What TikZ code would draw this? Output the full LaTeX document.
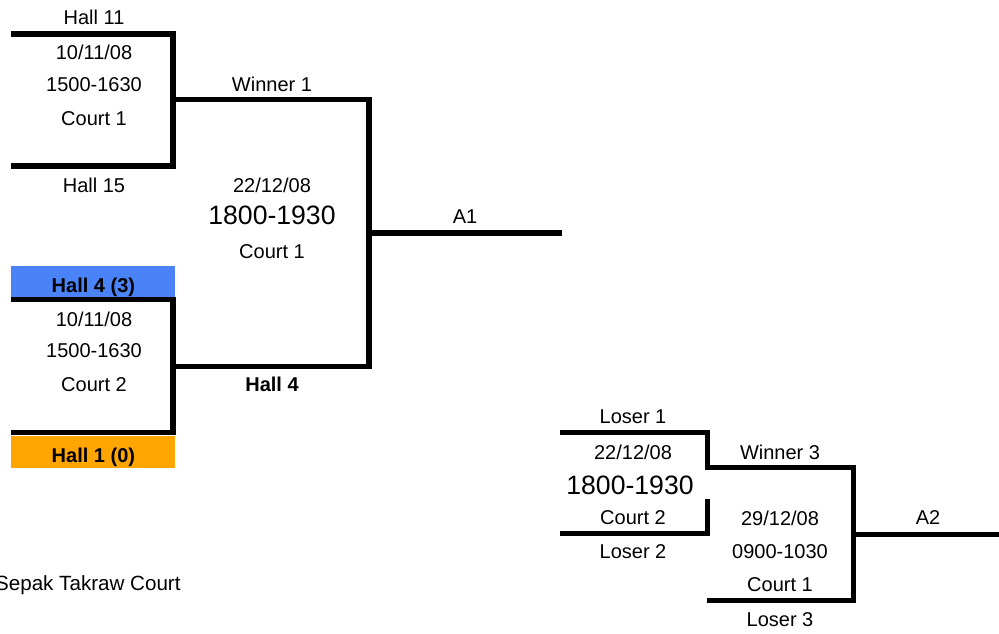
\documentclass[tikz,border=0pt]{standalone}
\usepackage{fontspec}
\setmainfont{Liberation Sans}
\usetikzlibrary{positioning}
\definecolor{winner}{HTML}{4A82F8}
\definecolor{loser}{HTML}{FFA500}

\begin{document}
\begin{tikzpicture}[x=0.5pt, y=-0.5pt,
    bracket/.style={line width=2.6pt, line join=miter},
    lbl/.style={font=\fontsize{10}{12}\selectfont, inner sep=0pt},
    big/.style={font=\fontsize{13.3}{15}\selectfont, inner sep=0pt},
    team/.style={font=\fontsize{10}{12}\selectfont\bfseries, minimum width=82pt,
                 minimum height=16pt, inner sep=0pt, text height=10.2pt, text depth=0pt,
                 anchor=north west}
]
    \useasboundingbox (0,0) rectangle (999,633);

    % 第一轮 (左上)
    \coordinate (m1a) at (11,34);
    \coordinate (m1b) at (11,166);
    \coordinate (m1w) at (173,99.5);
    \draw[bracket] (m1a) -| (m1w |- m1b) -- (m1b);
    \node[lbl] (h11) at (94,17) {Hall 11};
    \node[lbl] (d1) at (94,52) {10/11/08};
    \node[lbl] (t1) at (94,85) {1500-1630};
    \node[lbl] (c1) at (94,119) {Court 1};
    \node[lbl] (h15) at (94,185) {Hall 15};

    % 第一轮 (左下)
    \node[team, fill=winner] (h4s) at (11,265.5) {Hall 4 (3)};
    \node[team, fill=loser] (h1s) at (11,436) {Hall 1 (0)};
    \coordinate (m2a) at (11,299.5);
    \coordinate (m2b) at (11,432.5);
    \coordinate (m2w) at (173,366.5);
    \draw[bracket] (m2a) -| (m2w |- m2b) -- (m2b);
    \node[lbl] (d2) at (94,319) {10/11/08};
    \node[lbl] (t2) at (94,351) {1500-1630};
    \node[lbl] (c2) at (94,385) {Court 2};

    % 决赛 A1
    \coordinate (a1) at (562,233);
    \draw[bracket] (m1w) -- (369,99.5) -- (369,366.5) -- (m2w);
    \draw[bracket] (369,233) -- (a1);
    \node[lbl] (w1) at (272,84) {Winner 1};
    \node[lbl] (d3) at (272,185) {22/12/08};
    \node[big] (t3) at (272,215) {1800-1930};
    \node[lbl] (c3) at (272,252) {Court 1};
    \node[lbl, font=\fontsize{10}{12}\selectfont\bfseries] (h4) at (272,384) {Hall 4};
    \node[lbl] (a1l) at (465,217) {A1};

    % 败者组
    \coordinate (l1) at (560,432.5);
    \coordinate (l2) at (560,533.5);
    \draw[bracket] (l1) -- (707.5,432.5) -- (707.5,470);
    \draw[bracket] (707.5,499) -- (707.5,533.5) -- (l2);
    \node[lbl] (ls1) at (633,417) {Loser 1};
    \node[lbl] (d4) at (633,452) {22/12/08};
    \node[big] (t4) at (630,485) {1800-1930};
    \node[lbl] (c4) at (633,518) {Court 2};
    \node[lbl] (ls2) at (633,552) {Loser 2};

    % 决赛 A2
    \coordinate (l3) at (707,600.5);
    \coordinate (a2) at (999,534.5);
    \draw[bracket] (707.5,467.5) -| (853.5,600.5) -- (l3);
    \draw[bracket] (853.5,534.5) -- (a2);
    \node[lbl] (w3) at (780,452) {Winner 3};
    \node[lbl] (d5) at (780,518) {29/12/08};
    \node[lbl] (t5) at (780,552) {0900-1030};
    \node[lbl] (c5) at (780,585) {Court 1};
    \node[lbl] (ls3) at (780,620) {Loser 3};
    \node[lbl] (a2l) at (928,518) {A2};

    % 场地
    \node[lbl, font=\fontsize{10.3}{12}\selectfont, anchor=east] (venue) at (181,585) {Sepak Takraw Court};
\end{tikzpicture}
\end{document}
